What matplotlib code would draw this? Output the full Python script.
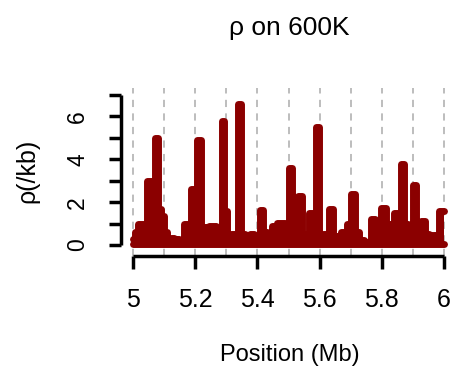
import matplotlib
matplotlib.use("Agg")
import matplotlib.pyplot as plt
import numpy as np

plt.rcParams['font.family'] = ['Liberation Sans', 'DejaVu Sans']

# step start positions (Mb) and rho values (/kb)
pos = [5.000, 5.004, 5.014, 5.044, 5.070, 5.080, 5.090, 5.100, 5.108, 5.120,
       5.130, 5.148, 5.162, 5.185, 5.205, 5.218, 5.245, 5.265, 5.284, 5.292,
       5.302, 5.315, 5.338, 5.346, 5.360, 5.375, 5.390, 5.408, 5.418, 5.432,
       5.448, 5.462, 5.490, 5.500, 5.512, 5.522, 5.532, 5.544, 5.555, 5.566,
       5.588, 5.598, 5.612, 5.630, 5.642, 5.658, 5.668, 5.678, 5.688, 5.703,
       5.713, 5.728, 5.745, 5.766, 5.778, 5.790, 5.798, 5.815, 5.840, 5.862,
       5.872, 5.885, 5.900, 5.912, 5.928, 5.940, 5.952, 5.965, 5.986, 6.000]
rho = [0.3, 0.6, 1.0, 3.0, 5.0, 1.7, 1.35, 0.6, 0.25, 0.35,
       0.3, 0.25, 1.0, 2.6, 4.9, 0.85, 0.9, 0.4, 5.8, 1.6,
       0.4, 0.5, 6.6, 0.5, 0.3, 0.5, 0.3, 1.65, 0.6, 0.5,
       0.9, 1.05, 0.5, 3.6, 0.5, 0.35, 2.3, 0.5, 0.35, 1.5,
       5.5, 0.4, 0.5, 1.7, 0.4, 0.3, 0.6, 0.3, 1.0, 2.4,
       0.6, 0.25, 0.15, 1.2, 0.4, 0.5, 1.75, 1.0, 1.5, 3.8,
       1.0, 0.8, 2.8, 0.5, 1.1, 0.5, 0.35, 0.45, 1.6, 1.6]

xticks = [5, 5.2, 5.4, 5.6, 5.8, 6]
xticklabels = ["5", "5.2", "5.4", "5.6", "5.8", "6"]
yticks = [0, 1, 2, 3, 4, 5, 6, 7]
yticklabels = ["0", "", "2", "", "4", "", "6", ""]
grid_x = np.round(np.arange(5.0, 6.01, 0.1), 1)

W, H = 456, 368
fig = plt.figure(figsize=(W / 100, H / 100), dpi=100)
ax = fig.add_axes([121 / W, 1 - 256 / H, (456 - 121) / W, (256 - 88) / H])

for g in grid_x:
    ax.axvline(g, color="#b8b8b8", lw=1.3, ls=(0, (4, 3.5)), zorder=1)

ax.fill_between(pos, 0, rho, step="post", color="#8b0000", lw=0, zorder=2)
ax.plot(pos, rho, drawstyle="steps-post", color="#8b0000", lw=5,
        solid_joinstyle="round", solid_capstyle="round", zorder=2)
ax.plot([pos[0], pos[-1]], [0.05, 0.05], color="#8b0000", lw=5,
        solid_capstyle="round", zorder=2)

ax.set_xlim(4.96, 6.04)
ax.set_ylim(-0.51, 7.33)

for s in ["top", "right"]:
    ax.spines[s].set_visible(False)
for s in ["left", "bottom"]:
    ax.spines[s].set_linewidth(2.5)
    ax.spines[s].set_capstyle("butt")
ax.spines["left"].set_bounds(0, 7)
ax.spines["bottom"].set_bounds(5, 6)

ax.set_xticks(xticks)
ax.set_xticklabels(xticklabels)
ax.set_yticks(yticks)
ax.set_yticklabels(yticklabels, rotation=90, va="center")
ax.tick_params(axis="both", length=9, width=2.5)
ax.tick_params(axis="x", pad=14, labelsize=18)
ax.tick_params(axis="y", pad=14, labelsize=16.5)

fig.text(289 / W, 1 - 28 / H, "ρ on 600K", ha="center", va="center", fontsize=19)
fig.text(290 / W, 1 - 355 / H, "Position (Mb)", ha="center", va="center", fontsize=17)
fig.text(27 / W, 1 - 171 / H, "ρ(/kb)", ha="center", va="center", rotation=90, fontsize=18)

fig.savefig("out.png", dpi=100)
